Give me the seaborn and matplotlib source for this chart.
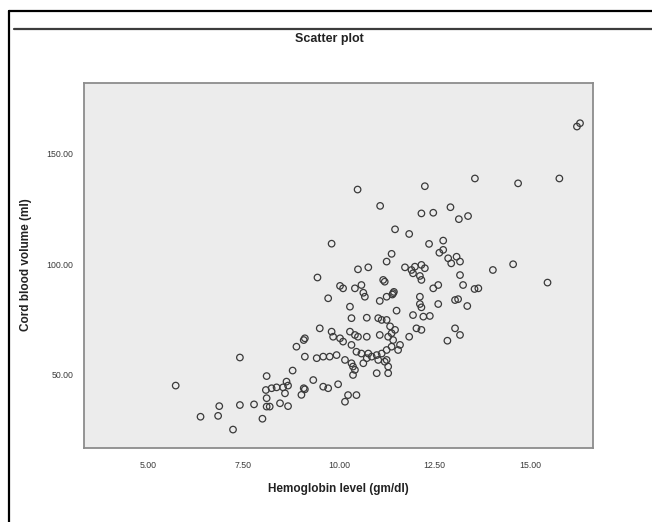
import matplotlib
matplotlib.use("Agg")
import matplotlib.pyplot as plt
from matplotlib.lines import Line2D
import numpy as np
import pandas as pd
import seaborn as sns

# Hemoglobin level (gm/dl) against cord blood volume (ml)
hemoglobin = [
    16.23, 16.31, 15.77, 14.69, 13.56, 12.25, 10.49, 11.08, 12.16, 12.47,
    12.92, 13.14, 13.38, 9.81, 11.47, 11.84, 12.36, 12.73, 12.73, 12.63,
    12.86, 12.94, 13.08, 13.17, 11.38, 11.25, 11.73, 11.90, 11.99, 12.16,
    12.25, 11.94, 12.12, 12.16, 13.17, 14.03, 14.56, 15.46, 13.65, 13.55,
    13.25, 12.47, 12.60, 11.20, 11.42, 11.40, 11.44, 12.12, 13.12, 13.04,
    13.36, 12.12, 12.16, 12.60, 11.51, 11.94, 12.21, 12.38, 11.12, 12.03,
    12.16, 11.84, 13.04, 13.17, 12.84, 11.38, 11.42, 11.60, 11.55, 11.25,
    11.29, 11.29, 10.50, 10.77, 9.44, 10.03, 10.11, 10.42, 10.59, 10.64,
    11.16, 9.72, 11.07, 11.25, 10.68, 10.29, 10.33, 10.73, 11.03, 11.25,
    9.50, 9.81, 9.85, 10.03, 10.11, 10.29, 10.42, 10.50, 10.73, 11.07,
    11.29, 9.11, 8.89, 9.08, 10.33, 10.46, 10.59, 10.77, 10.86, 10.99,
    11.12, 11.25, 9.94, 9.76, 9.59, 9.42, 9.11, 10.16, 10.33, 10.37,
    10.42, 10.37, 10.99, 11.03, 11.20, 9.33, 9.59, 9.72, 9.98, 9.08,
    9.02, 10.24, 10.46, 10.16, 8.79, 10.64, 10.73, 11.34, 11.47, 11.38,
    5.73, 7.41, 8.11, 8.63, 8.67, 8.54, 8.37, 8.24, 8.09, 8.59,
    8.11, 8.19, 8.11, 7.78, 7.41, 8.46, 8.67, 6.87, 6.84, 6.38,
    8.00, 7.23, 9.11,
]
cord_volume = [
    162.4, 163.9, 138.9, 136.7, 138.9, 135.4, 133.9, 126.5, 123.1, 123.4,
    125.9, 120.5, 121.9, 109.4, 115.9, 113.8, 109.3, 110.8, 106.6, 105.3,
    102.8, 100.5, 103.5, 101.3, 104.8, 101.3, 98.7, 97.5, 99.0, 99.8,
    98.3, 96.0, 94.8, 93.0, 95.2, 97.5, 100.1, 91.8, 89.2, 88.9,
    90.7, 89.2, 90.7, 92.2, 87.0, 86.4, 87.6, 85.4, 84.3, 83.9,
    81.2, 82.1, 80.6, 82.1, 79.1, 77.1, 76.4, 76.7, 74.9, 71.1,
    70.4, 67.3, 71.1, 68.1, 65.5, 68.9, 65.8, 63.6, 61.3, 56.8,
    53.8, 50.8, 97.8, 98.7, 94.1, 90.3, 89.2, 89.2, 90.7, 87.2,
    93.0, 84.7, 83.5, 85.4, 85.4, 80.9, 75.7, 75.9, 75.7, 74.9,
    71.1, 69.6, 67.3, 66.6, 65.1, 69.6, 68.1, 67.3, 67.3, 68.1,
    67.3, 66.6, 62.8, 65.8, 63.6, 60.5, 59.7, 59.7, 58.3, 59.0,
    59.7, 61.3, 59.0, 58.3, 58.3, 57.6, 58.3, 56.8, 55.3, 53.8,
    52.3, 50.0, 50.8, 56.8, 56.0, 47.7, 44.7, 44.0, 45.8, 44.0,
    41.0, 40.9, 40.9, 37.9, 52.0, 55.3, 57.6, 72.0, 70.4, 62.8,
    45.2, 57.9, 49.5, 47.0, 45.2, 44.4, 44.4, 44.0, 43.2, 41.7,
    39.5, 35.7, 35.7, 36.7, 36.4, 37.2, 35.9, 35.9, 31.5, 31.1,
    30.2, 25.3, 43.5,
]

x_ticks = [5.0, 7.5, 10.0, 12.5, 15.0]
y_ticks = [50.0, 100.0, 150.0]

df = pd.DataFrame({"hgb": hemoglobin, "vol": cord_volume})

sns.set_style("white")
plt.rcParams["font.family"] = ["Liberation Sans", "DejaVu Sans"]

fig = plt.figure(figsize=(6.52, 5.22), dpi=100)
fig.patch.set_facecolor("white")

ax = fig.add_axes([0.1288, 0.1418, 0.7807, 0.6992])
ax.set_facecolor("#ececec")

sns.scatterplot(
    data=df, x="hgb", y="vol", ax=ax,
    marker="o", s=22, facecolor="none",
    edgecolor="#3a3a3a", linewidth=0.9,
)

ax.set_xlim(3.33, 16.65)
ax.set_ylim(16.97, 182.1)
ax.set_xticks(x_ticks)
ax.set_yticks(y_ticks)
ax.set_xticklabels([f"{v:.2f}" for v in x_ticks], fontsize=6.3, color="#3a3a3a")
ax.set_yticklabels([f"{v:.2f}" for v in y_ticks], fontsize=6.3, color="#3a3a3a")
ax.tick_params(axis="both", direction="out", length=4.5, width=0.8,
               color="#555555", pad=3)
ax.tick_params(axis="x", pad=5)
for sp in ax.spines.values():
    sp.set_color("#8c8c8c")
    sp.set_linewidth(1.3)

ax.set_xlabel("Hemoglobin level (gm/dl)", fontsize=8.5, fontweight="bold",
              color="#222222")
ax.set_ylabel("Cord blood volume (ml)", fontsize=8.5, fontweight="bold",
              color="#222222")
ax.xaxis.set_label_coords(0.5, -0.095)
ax.yaxis.set_label_coords(-0.102, 0.503)

fig.text(0.505, 0.925, "Scatter plot", ha="center", va="center",
         fontsize=9, fontweight="bold", color="#222222")

# outer frame and header rule
fig.add_artist(Line2D([9 / 652, 9 / 652], [0, 1 - 11 / 522],
                      transform=fig.transFigure, color="black", linewidth=1.6))
fig.add_artist(Line2D([9 / 652, 1], [1 - 11 / 522, 1 - 11 / 522],
                      transform=fig.transFigure, color="black", linewidth=1.6))
fig.add_artist(Line2D([14 / 652, 1], [1 - 29 / 522, 1 - 29 / 522],
                      transform=fig.transFigure, color="#3c3c3c", linewidth=1.6))

fig.savefig("out.png", dpi=100, facecolor="white")
